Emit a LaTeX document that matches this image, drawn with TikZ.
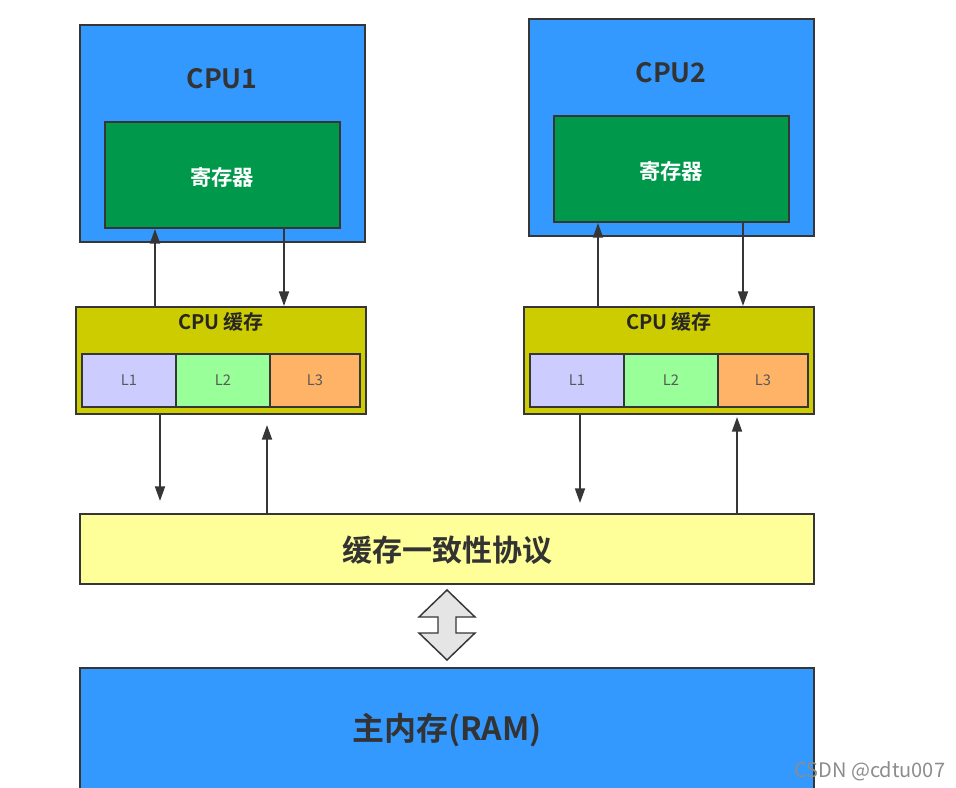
\documentclass[tikz,border=0pt]{standalone}
\usepackage{fontspec}
\setmainfont{Noto Sans CJK SC}
\newfontfamily\cjkb{Noto Sans CJK SC Bold}
\usetikzlibrary{fit,arrows.meta}
\definecolor{cpublue}{HTML}{3399FF}
\definecolor{reggreen}{HTML}{00994C}
\definecolor{cacheyel}{HTML}{CCCC00}
\definecolor{lone}{HTML}{CCCCFF}
\definecolor{ltwo}{HTML}{99FF99}
\definecolor{lthree}{HTML}{FFB366}
\definecolor{protyel}{HTML}{FFFF99}
\definecolor{edge}{HTML}{363636}
\definecolor{txt}{HTML}{333333}
\tikzset{
  box/.style={draw=edge, line width=1.5pt, inner sep=0pt},
  lbox/.style={draw=edge, line width=1.2pt, inner sep=0pt},
  ltext/.style={font=\fontsize{11}{12}\selectfont, text=black!65, inner sep=0pt},
  regtext/.style={font=\cjkb\fontsize{16}{18}\selectfont, text=white, inner sep=0pt},
  cputext/.style={font=\cjkb\fontsize{20}{22}\selectfont, text=txt, inner sep=0pt},
  cachetext/.style={font=\cjkb\fontsize{15}{17}\selectfont, text=black!85, inner sep=0pt},
  bigtext/.style={font=\cjkb\fontsize{22.5}{25}\selectfont, text=txt, inner sep=0pt},
  arr/.style={draw=edge, line width=1.4pt, -{Triangle[length=11pt,width=7.5pt]}},
}
\begin{document}
\begin{tikzpicture}[x=0.75pt,y=-0.75pt]
\useasboundingbox (0,0) rectangle (956,788);
% CPU1
\node[box, fill=cpublue, fit={(80,25)(365,242)}] (cpu1) {};
\node[cputext] (cpu1t) at (222,79) {CPU1};
\node[box, fill=reggreen, fit={(105,122)(340,228)}] (r1) {};
\node[regtext] (r1t) at (222,177) {寄存器};
% CPU2
\node[box, fill=cpublue, fit={(529,19)(814,236)}] (cpu2) {};
\node[cputext] (cpu2t) at (671,73) {CPU2};
\node[box, fill=reggreen, fit={(554,116)(789,222)}] (r2) {};
\node[regtext] (r2t) at (671,171) {寄存器};
% Cache 1
\node[box, fill=cacheyel, fit={(76,307)(366,414)}] (c1) {};
\node[cachetext] (c1t) at (221,322) {CPU 缓存};
\node[lbox, fill=lone, fit={(82,354)(176,407)}] (c1a) {};
\node[lbox, fill=ltwo, fit={(176,354)(270,407)}] (c1b) {};
\node[lbox, fill=lthree, fit={(270,354)(360,407)}] (c1c) {};
\node[ltext] at (c1a) {L1};
\node[ltext] at (c1b) {L2};
\node[ltext] at (c1c) {L3};
% Cache 2
\node[box, fill=cacheyel, fit={(524,307)(814,414)}] (c2) {};
\node[cachetext] (c2t) at (669,322) {CPU 缓存};
\node[lbox, fill=lone, fit={(530,354)(624,407)}] (c2a) {};
\node[lbox, fill=ltwo, fit={(624,354)(718,407)}] (c2b) {};
\node[lbox, fill=lthree, fit={(718,354)(808,407)}] (c2c) {};
\node[ltext] at (c2a) {L1};
\node[ltext] at (c2b) {L2};
\node[ltext] at (c2c) {L3};
% Protocol
\node[box, fill=protyel, fit={(80,514)(814,584)}] (prot) {};
\node[bigtext] (prott) at (447,550) {缓存一致性协议};
% RAM
\node[box, fill=cpublue, fit={(80,668)(814,792)}] (ram) {};
\node[bigtext, font=\cjkb\fontsize{24}{26}\selectfont] (ramt) at (447,730) {主内存(RAM)};
% arrow x positions
\coordinate (xa) at (155,0);
\coordinate (xb) at (284,0);
\coordinate (xc) at (598,0);
\coordinate (xd) at (743,0);
\coordinate (xe) at (160,0);
\coordinate (xf) at (267,0);
\coordinate (xg) at (580,0);
\coordinate (xh) at (737,0);
\coordinate (ea) at (0,501);
\coordinate (eb) at (0,425);
\coordinate (ec) at (0,503);
\coordinate (ed) at (0,417);
% register <-> cache arrows
\draw[arr] (c1.north -| xa) -- (r1.south -| xa);
\draw[arr] (r1.south -| xb) -- (c1.north -| xb);
\draw[arr] (c2.north -| xc) -- (r2.south -| xc);
\draw[arr] (r2.south -| xd) -- (c2.north -| xd);
% cache <-> protocol arrows
\draw[arr] (c1.south -| xe) -- (ea -| xe);
\draw[arr] (prot.north -| xf) -- (eb -| xf);
\draw[arr] (c2.south -| xg) -- (ec -| xg);
\draw[arr] (prot.north -| xh) -- (ed -| xh);
% double arrow
\draw[draw=edge, line width=1.1pt, fill=black!10, line join=miter]
  (447,590) -- (475,617) -- (456,617) -- (456,633) -- (475,633) -- (447,660)
  -- (419,633) -- (438,633) -- (438,617) -- (419,617) -- cycle;
% watermark
\node[font=\fontsize{15}{17}\selectfont, text=black!45, anchor=west, inner sep=0pt] (wm) at (794,771) {CSDN @cdtu007};
\end{tikzpicture}
\end{document}
